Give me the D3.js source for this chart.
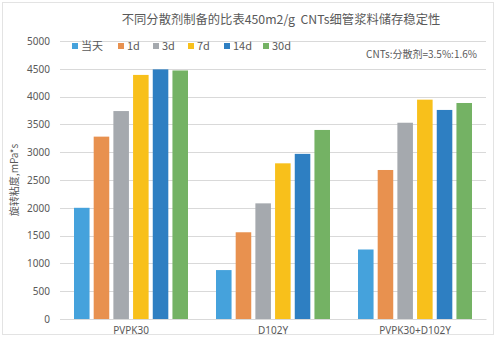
<!DOCTYPE html>
<html lang="zh">
<head>
<meta charset="utf-8">
<title>CNTs浆料储存稳定性</title>
<script src="https://cdn.jsdelivr.net/npm/d3@7/dist/d3.min.js"></script>
<style>
  body { margin: 0; background: #fff; }
  svg text { font-family: "Noto Sans CJK SC", "DejaVu Sans", sans-serif; fill: #595959; }
</style>
</head>
<body>
<script>
var categories = ["PVPK30", "D102Y", "PVPK30+D102Y"];
var seriesNames = ["当天", "1d", "3d", "7d", "14d", "30d"];
var seriesColors = ["#45a2dc", "#e8914f", "#a5a9ae", "#f8c01b", "#2e7fc2", "#74b264"];
// values per series, in category order
var v0 = [2000, 880, 1250];
var v1 = [3280, 1560, 2680];
var v3 = [3740, 2080, 3530];
var v7 = [4390, 2800, 3945];
var v14 = [4490, 2970, 3760];
var v30 = [4470, 3400, 3885];
var yTicks = [0, 500, 1000, 1500, 2000, 2500, 3000, 3500, 4000, 4500, 5000];

var seriesValues = [v0, v1, v3, v7, v14, v30];
var w = 496, h = 337;
// plot area (note: "top" is reserved on window, so use plot* names)
var plotLeft = 60, plotRight = 486, plotTop = 41, plotBottom = 319;

var svg = d3.select("body").append("svg")
  .attr("width", w).attr("height", h);

// outer frame
svg.append("rect")
  .attr("x", 2.5).attr("y", 2.5).attr("width", w - 5).attr("height", h - 5)
  .attr("fill", "none").attr("stroke", "#e3e3e3");

var x = d3.scaleBand().domain(categories).range([plotLeft, plotRight]);
var xs = d3.scaleBand().domain(seriesNames).range([0, 114]).paddingInner(0.21);
var y = d3.scaleLinear().domain([0, 5000]).range([plotBottom, plotTop]);

// grid
svg.append("g").selectAll("line")
  .data(yTicks)
  .enter().append("line")
  .attr("x1", plotLeft).attr("x2", plotRight)
  .attr("y1", function (d) { return Math.round(y(d)) + 0.5; })
  .attr("y2", function (d) { return Math.round(y(d)) + 0.5; })
  .attr("stroke", "#d9d9d9");

// y tick labels
var yAxis = svg.append("g")
  .attr("transform", "translate(" + (plotLeft - 10) + ",0)")
  .call(d3.axisLeft(y).tickValues(yTicks).tickFormat(d3.format("d")).tickSize(0).tickPadding(0));
yAxis.select(".domain").remove();
yAxis.selectAll("text").style("font-size", "10px").attr("fill", "#595959")
  .style("font-family", "\"Noto Sans\", sans-serif");

// bars
var bars = [];
seriesValues.forEach(function (vals, si) {
  vals.forEach(function (v, ci) {
    bars.push({ s: si, c: ci, v: v });
  });
});
svg.append("g").selectAll("rect")
  .data(bars)
  .enter().append("rect")
  .attr("x", function (d) {
    return x(categories[d.c]) + (x.bandwidth() - 114) / 2 + xs(seriesNames[d.s]);
  })
  .attr("y", function (d) { return y(d.v); })
  .attr("width", xs.bandwidth())
  .attr("height", function (d) { return y(0) - y(d.v); })
  .attr("fill", function (d) { return seriesColors[d.s]; });

// x axis labels
var xAxis = svg.append("g")
  .attr("transform", "translate(0," + plotBottom + ")")
  .call(d3.axisBottom(x).tickSize(0).tickPadding(8));
xAxis.select(".domain").attr("stroke", "#d9d9d9");
xAxis.selectAll("text").style("font-size", "10px").attr("fill", "#595959")
  .style("font-family", "\"Noto Sans\", sans-serif");

// title
svg.append("text")
  .attr("x", 281).attr("y", 24)
  .attr("text-anchor", "middle")
  .style("font-size", "12.3px")
  .attr("xml:space", "preserve")
  .text("不同分散剂制备的比表450m2/g  CNTs细管浆料储存稳定性");

// y axis title
svg.append("text")
  .attr("transform", "translate(18,180) rotate(-90)")
  .attr("text-anchor", "middle")
  .style("font-size", "10px")
  .text("旋转粘度,mPa*s");

// legend
var legendX = [75, 121, 156, 191, 227, 266];
var legend = svg.append("g").selectAll("g")
  .data(seriesNames)
  .enter().append("g")
  .attr("transform", function (d, i) { return "translate(" + legendX[i] + ",46)"; });
legend.append("rect")
  .attr("x", -3).attr("y", -3).attr("width", 6).attr("height", 6)
  .attr("fill", function (d, i) { return seriesColors[i]; });
legend.append("text")
  .attr("x", 6).attr("y", 4)
  .style("font-size", "11px")
  .text(function (d) { return d; });

// note
svg.append("text")
  .attr("x", 477).attr("y", 58)
  .attr("text-anchor", "end")
  .style("font-size", "10px")
  .text("CNTs:分散剂=3.5%:1.6%");
</script>
</body>
</html>
